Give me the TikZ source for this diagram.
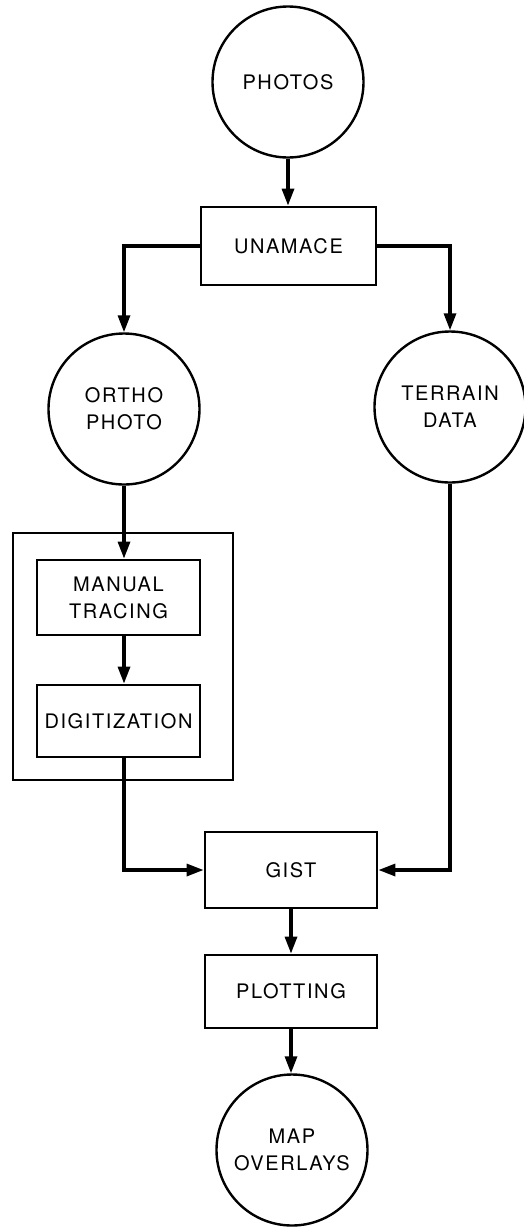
\documentclass[tikz,border=0pt]{standalone}
\usepackage{fontspec}
\setmainfont{TeX Gyre Heros}[LetterSpace=8]
\usetikzlibrary{arrows.meta}

\tikzset{
  proc/.style={draw, line width=2.8pt, rectangle, align=center, inner sep=0pt},
  data/.style={draw, line width=2.4pt, circle, minimum size=151pt, align=center, inner sep=0pt},
  flow/.style={line width=3.2pt, -{Triangle[length=17pt,width=12pt]}},
}

\begin{document}
\begin{tikzpicture}[x=1pt,y=-1pt,font=\fontsize{20}{27}\selectfont]
  \useasboundingbox (0,0) rectangle (523,1229);

  % Data (circles)
  \node[data] (photos) at (288,82) {PHOTOS};
  \node[data] (ortho) at (124,409) {ORTHO\\PHOTO};
  \node[data] (terrain) at (450,407) {TERRAIN\\DATA};
  \node[data] (map) at (292,1150) {MAP\\OVERLAYS};

  % Processing steps (boxes)
  \node[proc, minimum width=175pt, minimum height=78pt] (unamace) at (288.5,246) {UNAMACE};
  \node[proc, minimum width=220pt, minimum height=247pt] (group) at (123,656.5) {};
  \node[proc, minimum width=163pt, minimum height=75pt] (manual) at (118.5,597.5) {MANUAL\\TRACING};
  \node[proc, minimum width=163pt, minimum height=72pt] (digit) at (118.5,721) {DIGITIZATION};
  \node[proc, minimum width=172pt, minimum height=76pt] (gist) at (291,870) {GIST};
  \node[proc, minimum width=172pt, minimum height=73pt] (plotting) at (291,991.5) {PLOTTING};

  % Flow
  \draw[flow] (photos.south) -- (photos.south |- unamace.north);
  \draw[flow] (unamace.west) -| (ortho.north);
  \draw[flow] (unamace.east) -| (terrain.north);
  \draw[flow] (ortho.south) -- (ortho.south |- manual.north);
  \draw[flow] (ortho.south |- manual.south) -- (ortho.south |- digit.north);
  \draw[flow] (ortho.south |- digit.south) |- (gist.west);
  \draw[flow] (terrain.south) |- (gist.east);
  \foreach \a/\b in {gist/plotting, plotting/map}
    \draw[flow] (\a.south) -- (\a.south |- \b.north);
\end{tikzpicture}
\end{document}
